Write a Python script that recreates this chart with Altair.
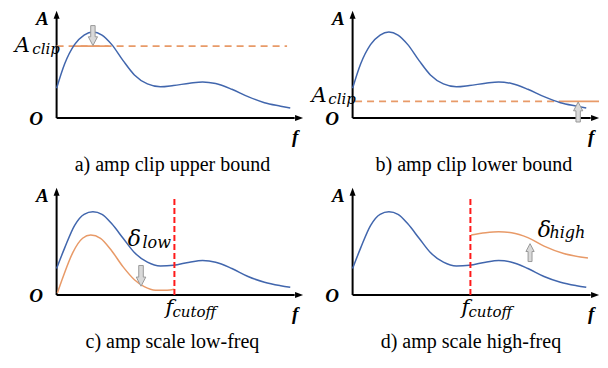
import altair as alt
import pandas as pd

# ---------------- data (local units: f along x-axis, A along y-axis) ----------------
f_base = [0, 0.33, 0.73, 1.12, 1.48, 1.85, 2.25, 2.71, 3.17, 3.70, 4.23, 4.76,
          5.42, 5.95, 6.48, 7.14, 7.80, 8.47, 9.13, 9.52]
A_top = [2.82, 5.15, 6.97, 7.88, 8.18, 7.88, 6.97, 5.45, 4.09, 3.24, 2.97, 3.09,
         3.30, 3.42, 3.27, 2.73, 2.03, 1.45, 1.12, 0.94]
A_bot = [2.52, 4.48, 6.60, 7.67, 7.91, 7.67, 6.76, 5.39, 4.03, 3.12, 2.76, 2.82,
         3.12, 3.27, 3.12, 2.52, 1.76, 1.21, 0.88, 0.73]

f_low = [0.03, 0.27, 0.66, 1.06, 1.39, 1.79, 2.25, 2.71, 3.17, 3.57, 4.03, 4.50, 4.80]
A_low = [0.18, 1.76, 4.03, 5.39, 5.70, 5.39, 4.18, 2.67, 1.45, 0.79, 0.45, 0.45, 0.55]

f_high = [4.83, 5.42, 5.95, 6.48, 7.14, 7.80, 8.60, 9.59]
A_high = [5.70, 5.91, 6.00, 5.91, 5.45, 4.64, 3.94, 3.52]

clip_upper = 6.82
clip_upper_dash = [0, 9.39]
clip_upper_solid = [0.73, 2.12]
clip_lower = 1.57
clip_lower_dash = [0.1, 8.4]
clip_lower_solid = [8.4, 10.04]

f_cutoff = 4.80
cutoff_top = 9.18

captions = ["a) amp clip upper bound", "b) amp clip lower bound",
            "c) amp scale low-freq", "d) amp scale high-freq"]
caption_f = [4.72, 4.94, 4.72, 4.82]

# gray block arrows: f, A(center), direction, size
arrow_f = [1.48, 9.19, 3.44, 7.23]
arrow_A = [7.83, 0.57, 1.82, 4.03]
arrow_dir = ["down", "up", "down", "up"]
arrow_len = [400, 400, 430, 320]

# ---------------- styling ----------------
BLUE = "#4166ad"
ORANGE = "#e89a68"
RED = "#ff1a1a"
SERIF = "Liberation Serif"
MATH = "DejaVu Serif"

XDOM = [-1.98, 10.08]
YDOM_TOP = [-6.27, 10.45]
YDOM_BOT = [-6.18, 10.55]
PW, PH = 296, 176

SHAPES = {
    "down": "M-0.22,-1L0.22,-1L0.22,0.12L0.46,0.12L0,1L-0.46,0.12L-0.22,0.12Z",
    "up": "M-0.22,1L0.22,1L0.22,-0.12L0.46,-0.12L0,-1L-0.46,-0.12L-0.22,-0.12Z",
    "head_up": "M0,-1L0.75,1L-0.75,1Z",
    "head_right": "M1,0L-1,-0.75L-1,0.75Z",
}


def X(dom=XDOM):
    return alt.X("f:Q", scale=alt.Scale(domain=dom, nice=False, zero=False), axis=None)


def Y(dom):
    return alt.Y("A:Q", scale=alt.Scale(domain=dom, nice=False, zero=False), axis=None)


def axes(ydom):
    lines = pd.DataFrame({"f": [0, 0], "A": [0, 0], "f2": [9.7, 0], "A2": [0, 9.5]})
    heads = pd.DataFrame({"f": [9.88, 0], "A": [0, 9.82],
                          "shape": [SHAPES["head_right"], SHAPES["head_up"]]})
    l = alt.Chart(lines).mark_rule(color="black", strokeWidth=2).encode(
        x=X(), y=Y(ydom), x2="f2:Q", y2="A2:Q")
    h = alt.Chart(heads).mark_point(filled=True, color="black", opacity=1, size=64).encode(
        x=X(), y=Y(ydom), shape=alt.Shape("shape:N", scale=None))
    lab = pd.DataFrame({"f": [-0.58, -0.83, 9.72], "A": [8.8, -0.62, -2.4], "t": ["A", "O", "f"]})
    t = alt.Chart(lab).mark_text(font=SERIF, fontSize=19, fontStyle="italic", fontWeight="bold",
                                 align="center", baseline="alphabetic", color="black").encode(
        x=X(), y=Y(ydom), text="t:N")
    return [l, h, t]


def curve(fs, As, ydom, color):
    df = pd.DataFrame({"f": fs, "A": As})
    return alt.Chart(df).mark_line(color=color, strokeWidth=1.5, interpolate="monotone").encode(
        x=X(), y=Y(ydom))


def text(df, ydom, size, font=MATH, style="italic", align="left", weight="normal"):
    return alt.Chart(df).mark_text(font=font, fontSize=size, fontStyle=style, fontWeight=weight,
                                   align=align, baseline="alphabetic", color="black").encode(
        x=X(), y=Y(ydom), text="t:N")


def caption(i, ydom):
    df = pd.DataFrame({"f": [caption_f[i]], "A": [-5.05], "t": [captions[i]]})
    return text(df, ydom, 20, font=SERIF, style="normal", align="center")


def gray_arrow(i, ydom):
    df = pd.DataFrame({"f": [arrow_f[i]], "A": [arrow_A[i]],
                       "shape": [SHAPES[arrow_dir[i]]], "s": [arrow_len[i]]})
    return alt.Chart(df).mark_point(filled=True, fill="#d9d9d9", stroke="#999999",
                                    strokeWidth=1, opacity=1).encode(
        x=X(), y=Y(ydom), shape=alt.Shape("shape:N", scale=None),
        size=alt.Size("s:Q", scale=None))


def hrule(f0, f1, a, ydom, color, dash=None, width=1.8):
    df = pd.DataFrame({"f": [f0], "f2": [f1], "A": [a]})
    kw = dict(color=color, strokeWidth=width)
    if dash:
        kw["strokeDash"] = dash
    return alt.Chart(df).mark_rule(**kw).encode(x=X(), x2="f2:Q", y=Y(ydom))


def vrule(f, a0, a1, ydom):
    df = pd.DataFrame({"f": [f], "A": [a0], "A2": [a1]})
    return alt.Chart(df).mark_rule(color=RED, strokeWidth=2, strokeDash=[6, 3]).encode(
        x=X(), y=Y(ydom), y2="A2:Q")


def sub_label(base, sub, fb, ab, fs, as_, ydom, bsize, ssize):
    d1 = pd.DataFrame({"f": [fb], "A": [ab], "t": [base]})
    d2 = pd.DataFrame({"f": [fs], "A": [as_], "t": [sub]})
    return [text(d1, ydom, bsize), text(d2, ydom, ssize)]


# panel a
ya = YDOM_TOP
pa = alt.layer(
    *axes(ya),
    hrule(clip_upper_dash[0], clip_upper_dash[1], clip_upper, ya, ORANGE, dash=[7, 5]),
    hrule(clip_upper_solid[0], clip_upper_solid[1], clip_upper, ya, ORANGE),
    curve(f_base, A_top, ya, BLUE),
    gray_arrow(0, ya),
    *sub_label("A", "clip", -1.71, 6.27, -0.99, 6.1, ya, 21, 15),
    caption(0, ya),
).properties(width=PW, height=PH)

# panel b
yb = YDOM_TOP
pb = alt.layer(
    *axes(yb),
    hrule(clip_lower_dash[0], clip_lower_dash[1], clip_lower, yb, ORANGE, dash=[7, 5]),
    hrule(clip_lower_solid[0], clip_lower_solid[1], clip_lower, yb, ORANGE),
    curve(f_base, A_top, yb, BLUE),
    gray_arrow(1, yb),
    *sub_label("A", "clip", -1.67, 1.55, -0.99, 1.36, yb, 21, 15),
    caption(1, yb),
).properties(width=PW, height=PH)

# panel c
yc = YDOM_BOT
pc = alt.layer(
    *axes(yc),
    curve(f_base, A_bot, yc, BLUE),
    curve(f_low, A_low, yc, ORANGE),
    vrule(f_cutoff, 0, cutoff_top, yc),
    gray_arrow(2, yc),
    *sub_label("δ", "low", 2.9, 4.7, 3.5, 4.5, yc, 22, 16),
    *sub_label("f", "cutoff", 4.44, -1.82, 4.72, -2.1, yc, 21, 15),
    caption(2, yc),
).properties(width=PW, height=PH)

# panel d
yd = YDOM_BOT
pd_ = alt.layer(
    *axes(yd),
    curve(f_base, A_bot, yd, BLUE),
    curve(f_high, A_high, yd, ORANGE),
    vrule(f_cutoff, 0, cutoff_top, yd),
    gray_arrow(3, yd),
    *sub_label("δ", "high", 7.54, 5.55, 8.02, 5.4, yd, 22, 16),
    *sub_label("f", "cutoff", 4.44, -1.82, 4.72, -2.1, yd, 21, 15),
    caption(3, yd),
).properties(width=PW, height=PH)

chart = alt.concat(pa, pb, pc, pd_, columns=2, spacing=0, bounds="flush").properties(
    padding=0
).configure_view(stroke=None)

chart.save("out.html", embed_options={"renderer": "svg", "actions": False})
